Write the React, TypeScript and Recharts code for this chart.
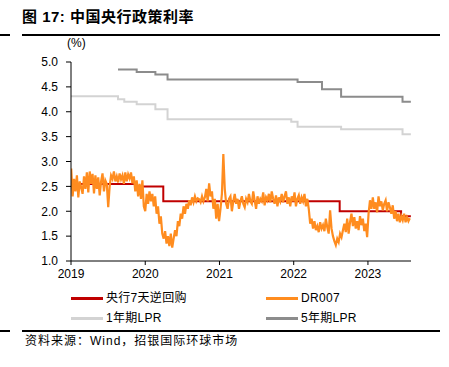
import React from "react";
import { LineChart, Line, XAxis, YAxis } from "recharts";

const yearTicks = [2019, 2020, 2021, 2022, 2023];
const rateTicks = [1.0, 1.5, 2.0, 2.5, 3.0, 3.5, 4.0, 4.5, 5.0];

// 央行7天逆回购 (step changes)
const repoDates = ["2019-01-01", "2019-11-18", "2020-03-30", "2022-08-15", "2023-06-13", "2023-07-31"];
const repoValues = [2.55, 2.5, 2.2, 2.0, 1.9, 1.9];

// 1年期LPR
const lpr1Dates = ["2019-01-01", "2019-08-20", "2019-09-20", "2019-11-20", "2020-02-20", "2020-04-20", "2021-12-20", "2022-01-20", "2022-08-22", "2023-06-20", "2023-07-31"];
const lpr1Values = [4.31, 4.25, 4.2, 4.15, 4.05, 3.85, 3.8, 3.7, 3.65, 3.55, 3.55];

// 5年期LPR
const lpr5Dates = ["2019-08-20", "2019-11-20", "2020-02-20", "2020-04-20", "2022-01-20", "2022-05-20", "2022-08-22", "2023-06-20", "2023-07-31"];
const lpr5Values = [4.85, 4.8, 4.75, 4.65, 4.6, 4.45, 4.3, 4.2, 4.2];

// DR007, weekly readings starting 2019-01-02
const drStart = "2019-01-02";
const dr2019 = [2.86, 2.3, 2.65, 2.4, 2.72, 2.28, 2.6, 2.48, 2.35, 2.7, 2.45, 2.78, 2.38, 2.8, 2.55, 2.75, 2.36, 2.72, 2.45, 2.68, 2.32, 2.6, 2.76, 2.4, 2.62, 2.55, 2.08, 2.5, 2.72, 2.65, 2.8, 2.6, 2.7, 2.58, 2.76, 2.64, 2.72, 2.55, 2.78, 2.6, 2.74, 2.66, 2.78, 2.56, 2.7, 2.4, 2.62, 2.3, 2.55, 2.25, 2.62, 2.1];
const dr2020 = [2.0, 2.35, 2.15, 2.4, 2.2, 2.35, 2.1, 2.3, 1.95, 2.1, 1.75, 1.9, 1.55, 1.45, 1.6, 1.35, 1.5, 1.3, 1.55, 1.27, 1.45, 1.62, 1.5, 1.8, 1.7, 1.95, 1.85, 2.1, 1.95, 2.15, 2.05, 2.22, 2.12, 2.28, 2.18, 2.3, 2.2, 2.26, 2.24, 2.18, 2.3, 2.2, 2.28, 2.45, 2.2, 2.56, 2.3, 2.4, 2.05, 2.25, 1.85, 2.15];
const dr2021 = [1.8, 2.05, 2.35, 3.15, 2.45, 2.15, 2.05, 2.25, 2.3, 2.0, 2.2, 2.35, 2.15, 2.25, 2.05, 2.2, 2.3, 2.15, 2.08, 2.25, 2.18, 2.35, 2.2, 2.15, 2.4, 2.22, 2.05, 2.3, 2.15, 2.25, 2.2, 2.38, 2.12, 2.28, 2.22, 2.35, 2.18, 2.4, 2.25, 2.15, 2.32, 2.1, 2.28, 2.2, 2.35, 2.18, 2.3, 2.4, 2.15, 2.28, 2.1, 2.3];
const dr2022 = [2.2, 2.38, 2.1, 2.25, 2.32, 2.15, 2.28, 2.2, 2.35, 2.1, 2.25, 2.05, 1.75, 1.85, 1.65, 1.8, 1.62, 1.7, 1.58, 1.78, 1.65, 1.72, 1.6, 1.85, 1.68, 1.55, 2.02, 1.65, 1.5, 1.4, 1.32, 1.45, 1.38, 1.55, 1.48, 1.62, 1.75, 1.58, 1.85, 1.55, 1.78, 1.95, 1.7, 1.88, 1.65, 1.8, 1.62, 1.9, 1.72, 1.85, 1.6, 1.75];
const dr2023 = [1.48, 1.95, 2.22, 2.05, 2.28, 2.05, 2.18, 1.98, 2.3, 2.1, 2.2, 2.02, 2.15, 2.22, 2.0, 2.18, 2.08, 1.95, 2.12, 1.85, 2.0, 1.8, 1.95, 1.78, 1.9, 1.82, 1.95, 1.78, 1.88, 1.8, 1.86];

const toYear = (s: string) => {
  const d = new Date(s + "T00:00:00Z");
  const y = d.getUTCFullYear();
  const a = Date.UTC(y, 0, 1);
  const b = Date.UTC(y + 1, 0, 1);
  return y + (d.getTime() - a) / (b - a);
};
const pairs = (dates: string[], vals: number[]) => dates.map((s, i) => ({ t: toYear(s), v: vals[i] }));

const repoData = pairs(repoDates, repoValues);
const lpr1Data = pairs(lpr1Dates, lpr1Values);
const lpr5Data = pairs(lpr5Dates, lpr5Values);
const drValues = [...dr2019, ...dr2020, ...dr2021, ...dr2022, ...dr2023];
const drData = drValues.map((v, i) => {
  const d = new Date(new Date(drStart + "T00:00:00Z").getTime() + i * 7 * 86400000);
  return { t: toYear(d.toISOString().slice(0, 10)), v };
});

const RED = "#C00000";
const ORANGE = "#FF8C1F";
const LIGHT = "#D3D3D3";
const DARK = "#8C8C8C";

const sans = '"Liberation Sans", Arial, "Noto Sans CJK SC", sans-serif';
const cjk = '"Liberation Sans", "Noto Sans CJK SC", sans-serif';

const legendItems = [
  { label: "央行7天逆回购", color: RED, x: 71, y: 298 },
  { label: "DR007", color: ORANGE, x: 266, y: 298 },
  { label: "1年期LPR", color: LIGHT, x: 71, y: 318 },
  { label: "5年期LPR", color: DARK, x: 266, y: 318 },
];

export default function App() {
  return (
    <div style={{ position: "absolute", left: 0, top: 0, width: 449, height: 367, background: "#fff", fontFamily: cjk, color: "#000" }}>
      <div style={{ position: "absolute", left: 22, top: 6, fontSize: 15, fontWeight: "bold", whiteSpace: "nowrap", lineHeight: "22px", letterSpacing: 0.5 }}>
        图 17: 中国央行政策利率
      </div>
      <div style={{ position: "absolute", left: 0, top: 34, width: 10, height: 2, background: "#000" }} />
      <div style={{ position: "absolute", left: 22, top: 34, width: 418, height: 2, background: "#000" }} />
      <div style={{ position: "absolute", left: 67, top: 36, fontSize: 12, fontFamily: sans, lineHeight: "14px" }}>(%)</div>
      <div style={{ position: "absolute", left: 0, top: 40 }}>
        <LineChart width={449} height={251} margin={{ top: 22, right: 38, bottom: 0, left: 0 }}>
          <XAxis
            type="number"
            dataKey="t"
            domain={[2019, 2023.58]}
            ticks={yearTicks}
            allowDataOverflow
            height={30}
            tickSize={4}
            tickMargin={4}
            tick={{ fontSize: 12, fill: "#000", fontFamily: sans }}
            axisLine={{ stroke: "#000" }}
            tickLine={{ stroke: "#000" }}
          />
          <YAxis
            type="number"
            domain={[1, 5]}
            ticks={rateTicks}
            width={71}
            tickSize={5}
            tickMargin={8}
            tickFormatter={(v: number) => v.toFixed(1)}
            tick={{ fontSize: 12, fill: "#000", fontFamily: sans }}
            axisLine={{ stroke: "#000" }}
            tickLine={{ stroke: "#000" }}
          />
          <Line data={lpr1Data} dataKey="v" type="stepAfter" stroke={LIGHT} strokeWidth={2} dot={false} isAnimationActive={false} />
          <Line data={lpr5Data} dataKey="v" type="stepAfter" stroke={DARK} strokeWidth={2} dot={false} isAnimationActive={false} />
          <Line data={repoData} dataKey="v" type="stepAfter" stroke={RED} strokeWidth={2} dot={false} isAnimationActive={false} />
          <Line data={drData} dataKey="v" type="linear" stroke={ORANGE} strokeWidth={2.2} dot={false} isAnimationActive={false} />
        </LineChart>
      </div>
      {legendItems.map((it) => (
        <div key={it.label} style={{ position: "absolute", left: it.x, top: it.y - 8, height: 16, display: "flex", alignItems: "center", whiteSpace: "nowrap" }}>
          <div style={{ width: 32, height: 3, background: it.color }} />
          <span style={{ marginLeft: 3, fontSize: 12, lineHeight: "16px", letterSpacing: 0.3 }}>{it.label}</span>
        </div>
      ))}
      <div style={{ position: "absolute", left: 0, top: 330, width: 10, height: 2, background: "#000" }} />
      <div style={{ position: "absolute", left: 22, top: 330, width: 418, height: 2, background: "#000" }} />
      <div style={{ position: "absolute", left: 25, top: 333, fontSize: 12, lineHeight: "16px", letterSpacing: 1, whiteSpace: "nowrap" }}>
        资料来源：Wind，招银国际环球市场
      </div>
    </div>
  );
}
